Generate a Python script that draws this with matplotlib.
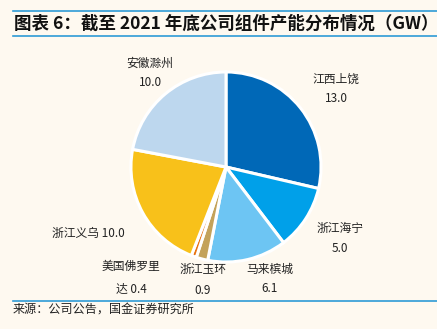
import matplotlib.pyplot as plt
from matplotlib.lines import Line2D

plt.rcParams['font.family'] = ['Noto Sans CJK SC', 'DejaVu Sans']

# capacity by site, GW
sites = ['江西上饶', '浙江海宁', '马来槟城', '浙江玉环', '美国佛罗里达', '浙江义乌', '安徽滁州']
capacity = [13.0, 5.0, 6.1, 0.9, 0.4, 10.0, 10.0]
label_text = ['江西上饶\n13.0', '浙江海宁\n5.0', '马来槟城\n6.1', '浙江玉环\n0.9',
              '美国佛罗里\n达 0.4', '浙江义乌 10.0', '安徽滁州\n10.0']
colors = ['#0068b7', '#00a0e9', '#6dc5f3', '#c4a25a', '#e8730f', '#f8c11a', '#bdd7ee']

W, H = 437, 329
bg = '#fef9f0'
fig = plt.figure(figsize=(W / 100, H / 100), dpi=100, facecolor=bg)

# pie centred at (226,167) px, radius ~96 px
cx, cy, r = 226, 167, 96
ax = fig.add_axes([(cx - r) / W, (H - cy - r) / H, 2 * r / W, 2 * r / H])
ax.set_facecolor(bg)
ax.pie(capacity, colors=colors, startangle=90, counterclock=False,
       wedgeprops=dict(edgecolor='white', linewidth=2.2))
ax.set_xlim(-1.01, 1.01)
ax.set_ylim(-1.01, 1.01)
ax.set_aspect('equal')
ax.axis('off')

# label centres in pixels
label_pos = [(336, 89), (340, 238), (270, 279), (203, 280), (131, 278), (88, 233), (150, 73)]
spacing = [1.7, 1.7, 1.7, 1.7, 2.0, 1.7, 1.7]
for txt, (px, py), ls in zip(label_text, label_pos, spacing):
    fig.text(px / W, 1 - py / H, txt, ha='center', va='center', fontsize=8.5,
             color='#222222', linespacing=ls)

# title and rules
blue = '#2e9bd6'
fig.add_artist(Line2D([13 / W, 1], [1 - 11 / H] * 2, color=blue, lw=1.2))
fig.add_artist(Line2D([13 / W, 1], [1 - 36 / H] * 2, color=blue, lw=1.2))
fig.add_artist(Line2D([13 / W, 1], [1 - 301 / H] * 2, color=blue, lw=1.2))
fig.text(14 / W, 1 - 23.5 / H, '图表 6：截至 2021 年底公司组件产能分布情况（GW）',
         ha='left', va='center', fontsize=12.6, fontweight='bold', color='#111111')
fig.text(13 / W, 1 - 309 / H, '来源：公司公告，国金证券研究所', ha='left', va='center',
         fontsize=8.7, color='#222222')

fig.savefig('out.png', dpi=100, facecolor=bg)
